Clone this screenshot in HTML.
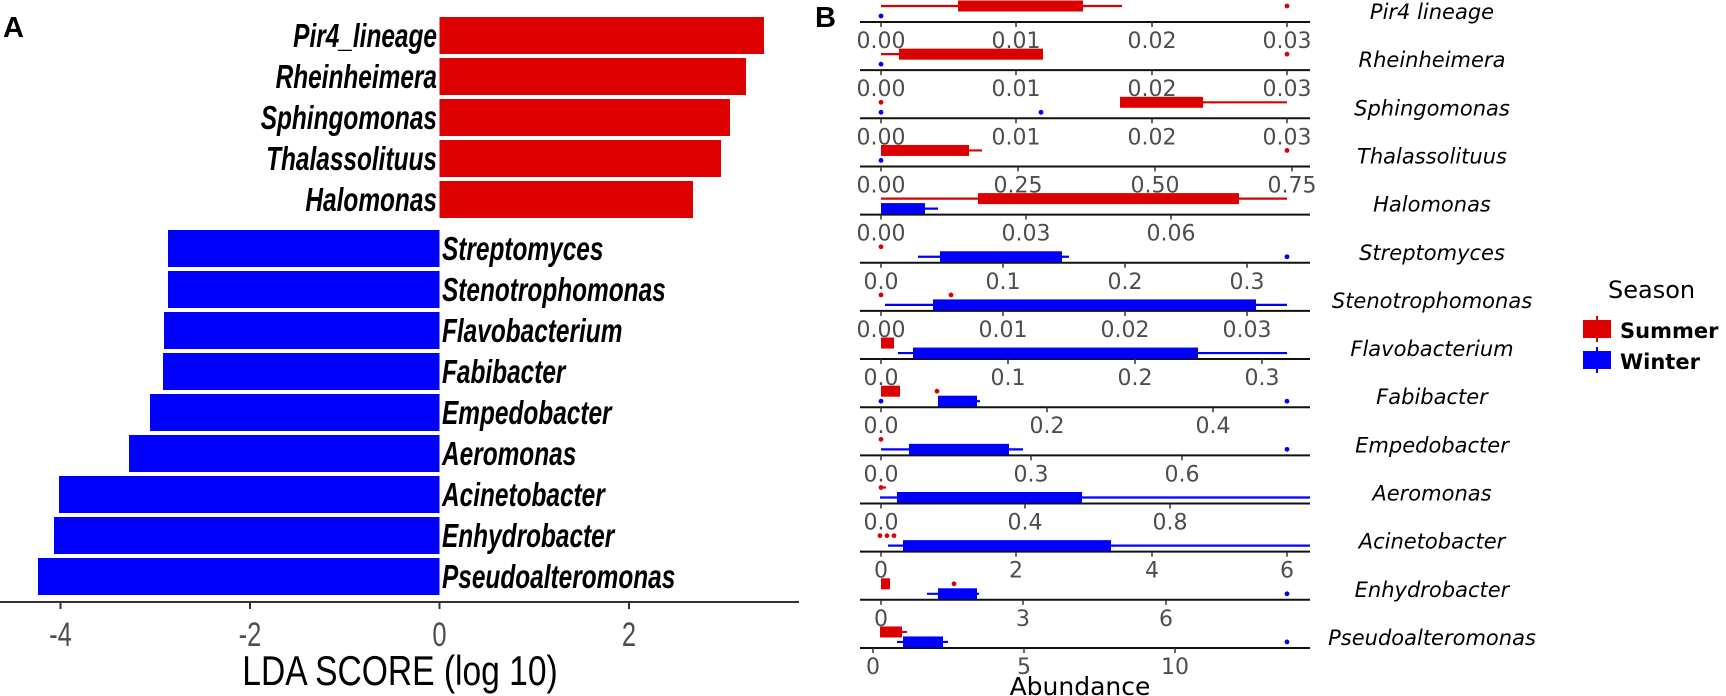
<!DOCTYPE html>
<html><head><meta charset="utf-8"><style>
html,body{margin:0;padding:0;background:#fff;}
svg{display:block;}
.cond{font-family:"Liberation Sans Narrow","Liberation Sans",sans-serif;}
.b{font-family:"DejaVu Sans","Liberation Sans",sans-serif;}
</style></head><body>
<svg id="s" width="1726" height="696" viewBox="0 0 1726 696" xmlns="http://www.w3.org/2000/svg">
<text x="3" y="37" font-family="Liberation Sans" font-weight="bold" font-size="29">A</text>
<text x="815" y="27" font-family="Liberation Sans" font-weight="bold" font-size="29">B</text>
<g id="A"></g>
<line x1="0" y1="602" x2="799" y2="602" stroke="#333" stroke-width="2"/>
<g id="B"></g>
<text x="1080" y="695" class="b" font-size="25" text-anchor="middle">Abundance</text>
<text x="1608" y="298" class="b" font-size="24">Season</text>
<rect x="1583" y="320" width="28" height="18" fill="#DD0000"/><line x1="1597" y1="316" x2="1597" y2="342" stroke="#DD0000" stroke-width="2"/>
<rect x="1583" y="351" width="28" height="18" fill="#0000FF"/><line x1="1597" y1="347" x2="1597" y2="373" stroke="#0000FF" stroke-width="2"/>
<text x="1620" y="338" class="b" font-size="21" font-weight="bold">Summer</text>
<text x="1620" y="369" class="b" font-size="21" font-weight="bold">Winter</text>
</svg>
<script>
var NS="http://www.w3.org/2000/svg";
function el(p,t,a,txt){var e=document.createElementNS(NS,t);for(var k in a)e.setAttribute(k,a[k]);if(txt!=null)e.textContent=txt;p.appendChild(e);return e;}
var A=document.getElementById("A");
var red=[["Pir4_lineage",764],["Rheinheimera",746],["Sphingomonas",730],["Thalassolituus",721],["Halomonas",693]];
var ry=[17,58,99,140,181];
red.forEach(function(r,i){el(A,"rect",{x:439.5,y:ry[i],width:r[1]-439.5,height:37,fill:"#DD0000"});
 el(A,"text",{x:437,y:ry[i]+30,"text-anchor":"end","font-size":33,"font-style":"italic","font-weight":"bold","class":"cond",transform:"translate(437 0) scale(0.74 1) translate(-437 0)"},r[0]);});
var blue=[["Streptomyces",168],["Stenotrophomonas",168],["Flavobacterium",164],["Fabibacter",163],["Empedobacter",150],["Aeromonas",129],["Acinetobacter",59],["Enhydrobacter",54],["Pseudoalteromonas",38]];
blue.forEach(function(r,i){var y=230+41*i;el(A,"rect",{x:r[1],y:y,width:439.5-r[1],height:37,fill:"#0000FF"});
 el(A,"text",{x:442,y:y+30,"font-size":33,"font-style":"italic","font-weight":"bold","class":"cond",transform:"translate(442 0) scale(0.74 1) translate(-442 0)"},r[0]);});
[[-4,60.5],[-2,250],[0,439.5],[2,629]].forEach(function(t){el(A,"line",{x1:t[1],y1:602,x2:t[1],y2:609,stroke:"#333","stroke-width":2});
 el(A,"text",{x:t[1],y:646,"text-anchor":"middle","font-size":34,fill:"#4d4d4d","class":"cond",transform:"translate("+t[1]+" 0) scale(0.75 1) translate("+(-t[1])+" 0)"},t[0]);});
el(A,"text",{x:400,y:685,"text-anchor":"middle","font-size":42,"class":"cond",transform:"translate(400 0) scale(0.8 1) translate(-400 0)"},"LDA SCORE (log 10)");
var B=document.getElementById("B");
var R="#DD0000",U="#0000FF";
var rows=[
["Pir4 lineage",[["0.00",881],["0.01",1016],["0.02",1152],["0.03",1287]],{w:[881,1122],b:[958,1083],d:[1287]},{d:[881]}],
["Rheinheimera",[["0.00",881],["0.01",1016],["0.02",1152],["0.03",1287]],{w:[881,899],b:[899,1043],d:[1287]},{d:[881]}],
["Sphingomonas",[["0.00",881],["0.01",1016],["0.02",1152],["0.03",1287]],{w:[1120,1287],b:[1120,1203],d:[881]},{d:[881,1041]}],
["Thalassolituus",[["0.00",881],["0.25",1018],["0.50",1155],["0.75",1292]],{w:[881,982],b:[881,969],d:[1287]},{d:[881]}],
["Halomonas",[["0.00",881],["0.03",1026],["0.06",1171]],{w:[881,1287],b:[978,1239]},{w:[881,938],b:[881,925]}],
["Streptomyces",[["0.0",881],["0.1",1003],["0.2",1125],["0.3",1247]],{d:[881]},{w:[918,1069],b:[940,1062],d:[1287]}],
["Stenotrophomonas",[["0.00",881],["0.01",1003],["0.02",1125],["0.03",1247]],{d:[881,951]},{w:[885,1287],b:[933,1256]}],
["Flavobacterium",[["0.0",881],["0.1",1008],["0.2",1135],["0.3",1262]],{b:[881,894]},{w:[898,1287],b:[913,1198]}],
["Fabibacter",[["0.0",881],["0.2",1047],["0.4",1213]],{b:[881,900],d:[937]},{w:[938,980],b:[938,977],d:[881,1287]}],
["Empedobacter",[["0.0",881],["0.3",1031],["0.6",1182]],{d:[881]},{w:[881,1023],b:[909,1009],d:[1287]}],
["Aeromonas",[["0.0",881],["0.4",1025],["0.8",1170]],{w:[881,886],d:[881]},{w:[880,1310],b:[897,1082]}],
["Acinetobacter",[["0",881],["2",1016],["4",1152],["6",1287]],{d:[880,887,894]},{w:[888,1310],b:[903,1111]}],
["Enhydrobacter",[["0",881],["3",1023],["6",1166]],{b:[881,890],d:[954]},{w:[927,979],b:[938,977],d:[1287]}],
["Pseudoalteromonas",[["0",873],["5",1024],["10",1175]],{w:[880,907],b:[880,902]},{w:[897,948],b:[903,943],d:[1287]}]];
function series(o,c,y){
 if(o.w)el(B,"line",{x1:o.w[0],y1:y,x2:o.w[1],y2:y,stroke:c,"stroke-width":2.2});
 if(o.b)el(B,"rect",{x:o.b[0],y:y-5.5,width:o.b[1]-o.b[0],height:11,fill:c});
 if(o.d)o.d.forEach(function(x){el(B,"circle",{cx:x,cy:y,r:2.4,fill:c});});
}
rows.forEach(function(r,i){var a=22+48.15*i;
 el(B,"line",{x1:860,y1:a,x2:1310,y2:a,stroke:"#111","stroke-width":2});
 r[1].forEach(function(t){el(B,"line",{x1:t[1],y1:a,x2:t[1],y2:a+5,stroke:"#333","stroke-width":1.5});
  el(B,"text",{x:t[1],y:a+26,"text-anchor":"middle","font-size":22,fill:"#4d4d4d","class":"b"},t[0]);});
 series(r[2],R,a-16);series(r[3],U,a-6);
 el(B,"text",{x:1432,y:a-3,"text-anchor":"middle","font-size":21,"font-style":"italic","class":"b"},r[0]);
});
</script>
</body></html>
